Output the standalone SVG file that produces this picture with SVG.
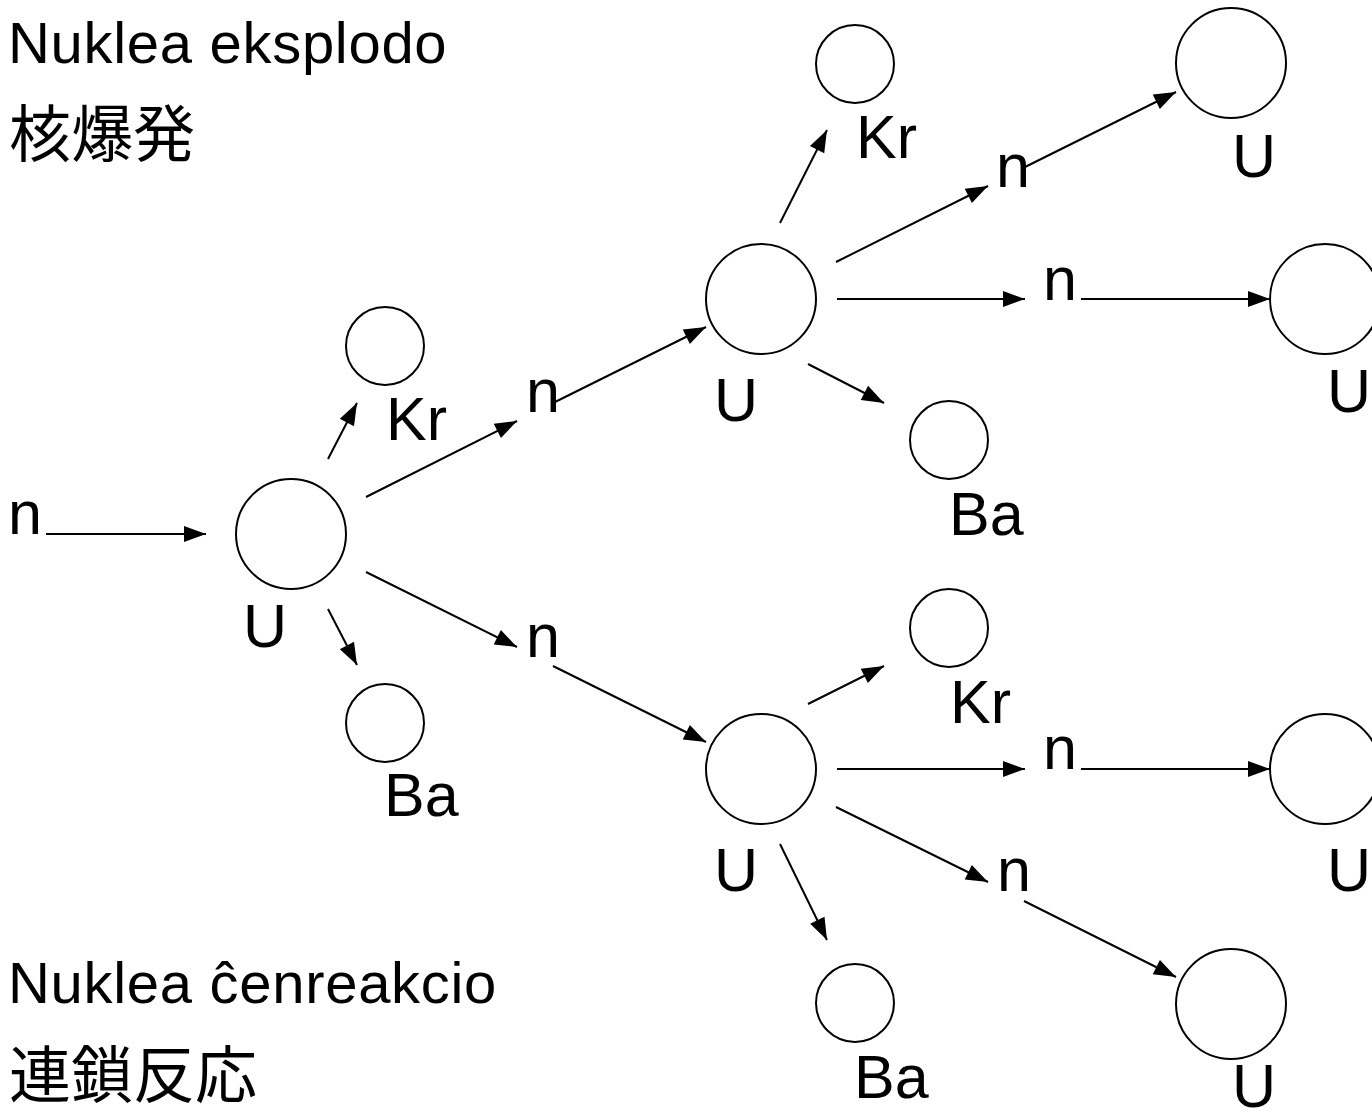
<svg xmlns="http://www.w3.org/2000/svg" width="1372" height="1120" viewBox="0 0 1372 1120">
<style>
.nd{fill:#fff;stroke:#000;stroke-width:2}
.lb{font-family:"Liberation Sans",Arial,sans-serif;font-size:61px;fill:#000}
.tt{font-family:"Liberation Sans",Arial,sans-serif;font-size:58px;letter-spacing:0.7px;fill:#000}
.cj{font-family:"Liberation Sans","Noto Sans CJK JP",sans-serif;font-size:62px;fill:#000}
.cn line{stroke:#000;stroke-width:2;marker-end:url(#ah)}
</style>
<defs>
<marker id="ah" markerUnits="userSpaceOnUse" markerWidth="24" markerHeight="18" refX="22" refY="8" orient="auto" overflow="visible">
<path d="M0,0 L22,8 L0,16 Z" fill="#000"/>
</marker>
</defs>
<rect width="1372" height="1120" fill="#fff"/>
<g id="titles">
<text class="tt" x="8" y="63">Nuklea eksplodo</text>
<text class="cj" x="9" y="157">核爆発</text>
<text class="tt" x="8" y="1003">Nuklea ĉenreakcio</text>
<text class="cj" x="9" y="1098">連鎖反応</text>
</g>
<g class="cn" id="connectors">
<line x1="46" y1="534" x2="206" y2="534"/>
<line x1="328" y1="459" x2="357" y2="403"/>
<line x1="328" y1="609" x2="357" y2="665"/>
<line x1="366" y1="497" x2="517" y2="421"/>
<line x1="366" y1="572" x2="517" y2="647"/>
<line x1="553" y1="403" x2="706" y2="327"/>
<line x1="553" y1="666" x2="706" y2="742"/>
<line x1="780" y1="223" x2="827" y2="130"/>
<line x1="836" y1="262" x2="988" y2="186"/>
<line x1="837" y1="299" x2="1025" y2="299"/>
<line x1="808" y1="364" x2="884" y2="403"/>
<line x1="1025" y1="167" x2="1176" y2="92"/>
<line x1="1081" y1="299" x2="1270" y2="299"/>
<line x1="808" y1="704" x2="884" y2="666"/>
<line x1="837" y1="769" x2="1025" y2="769"/>
<line x1="836" y1="807" x2="988" y2="882"/>
<line x1="780" y1="844" x2="827" y2="940"/>
<line x1="1024" y1="901" x2="1176" y2="977"/>
<line x1="1081" y1="769" x2="1270" y2="769"/>
</g>
<g id="n-in"><text class="lb" x="8" y="534">n</text></g>
<g id="U1"><circle class="nd" cx="291" cy="534" r="55"/><text class="lb" x="243" y="647">U</text></g>
<g id="Kr1"><circle class="nd" cx="385" cy="346" r="39"/><text class="lb" x="386" y="440">Kr</text></g>
<g id="Ba1"><circle class="nd" cx="385" cy="723" r="39"/><text class="lb" x="384" y="816">Ba</text></g>
<g id="n1"><text class="lb" x="526" y="412">n</text></g>
<g id="n2"><text class="lb" x="526" y="657">n</text></g>
<g id="U2"><circle class="nd" cx="761" cy="299" r="55"/><text class="lb" x="714" y="421">U</text></g>
<g id="U3"><circle class="nd" cx="761" cy="769" r="55"/><text class="lb" x="714" y="891">U</text></g>
<g id="Kr2"><circle class="nd" cx="855" cy="64" r="39"/><text class="lb" x="856" y="158">Kr</text></g>
<g id="Ba2"><circle class="nd" cx="949" cy="440" r="39"/><text class="lb" x="949" y="535">Ba</text></g>
<g id="Kr3"><circle class="nd" cx="949" cy="628" r="39"/><text class="lb" x="950" y="723">Kr</text></g>
<g id="Ba3"><circle class="nd" cx="855" cy="1003" r="39"/><text class="lb" x="854" y="1098">Ba</text></g>
<g id="n3"><text class="lb" x="996" y="187">n</text></g>
<g id="n4"><text class="lb" x="1043" y="300">n</text></g>
<g id="n5"><text class="lb" x="1043" y="769">n</text></g>
<g id="n6"><text class="lb" x="997" y="891">n</text></g>
<g id="U4"><circle class="nd" cx="1231" cy="63" r="55"/><text class="lb" x="1232" y="177">U</text></g>
<g id="U5"><circle class="nd" cx="1325" cy="299" r="55"/><text class="lb" x="1327" y="412">U</text></g>
<g id="U6"><circle class="nd" cx="1325" cy="769" r="55"/><text class="lb" x="1327" y="891">U</text></g>
<g id="U7"><circle class="nd" cx="1231" cy="1004" r="55"/><text class="lb" x="1232" y="1107">U</text></g>
</svg>
